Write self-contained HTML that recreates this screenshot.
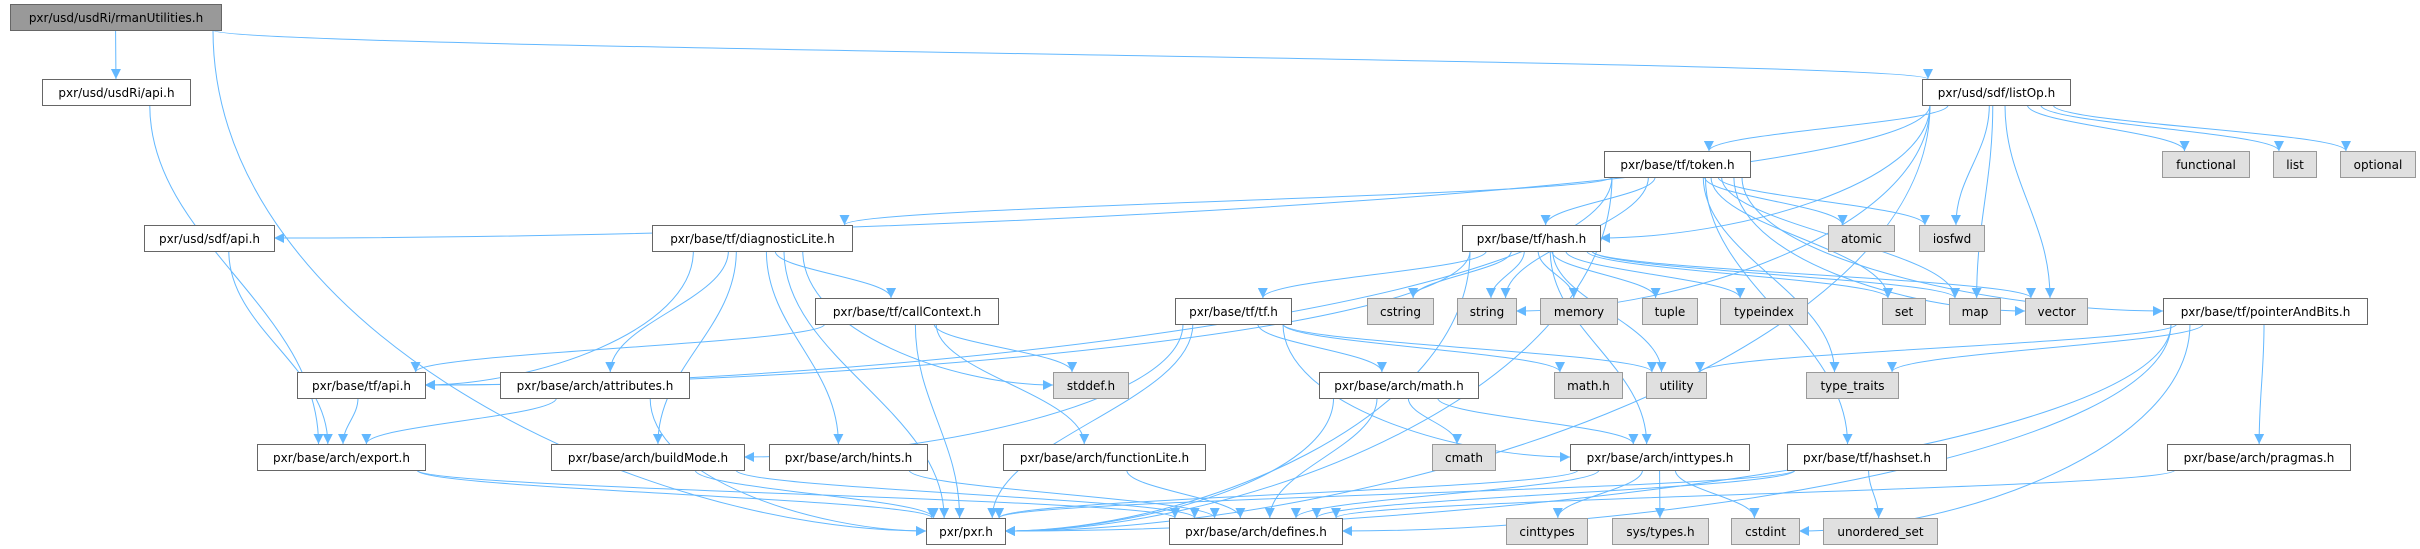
<!DOCTYPE html>
<html><head><meta charset="utf-8">
<style>
html,body{margin:0;padding:0;background:#fff;}
svg{display:block;}
text{font-family:"DejaVu Sans","Liberation Sans",sans-serif;font-size:12px;fill:#000;}
</style></head>
<body>
<svg id="g" width="2420" height="549" viewBox="0 0 2420 549" xmlns="http://www.w3.org/2000/svg">
<defs>
<marker id="ah" viewBox="0 0 10 10" refX="10" refY="5" markerWidth="10" markerHeight="10" markerUnits="userSpaceOnUse" orient="auto">
<path d="M0,0 L10,5 L0,10 z" fill="#63b8ff"/>
</marker>
</defs>
<g id="edges"></g>
<g id="nodes"></g>
</svg>
<script>
var R=[4,79,151,225,298,372,444,518];
var H=26;
// id: [label, x1, x2, row, type]  type: 0 white,1 gray-ext,2 main
var N={
rman:["pxr/usd/usdRi/rmanUtilities.h",10,221,0,2],
riapi:["pxr/usd/usdRi/api.h",42,190,1,0],
listop:["pxr/usd/sdf/listOp.h",1922,2070,1,0],
token:["pxr/base/tf/token.h",1604,1750,2,0],
functional:["functional",2162,2249,2,1],
list:["list",2273,2316,2,1],
optional:["optional",2340,2415,2,1],
sdfapi:["pxr/usd/sdf/api.h",144,274,3,0],
diag:["pxr/base/tf/diagnosticLite.h",652,852,3,0],
hash:["pxr/base/tf/hash.h",1462,1600,3,0],
atomic:["atomic",1828,1894,3,1],
iosfwd:["iosfwd",1919,1984,3,1],
callctx:["pxr/base/tf/callContext.h",815,998,4,0],
tf:["pxr/base/tf/tf.h",1175,1291,4,0],
cstring:["cstring",1367,1433,4,1],
string:["string",1457,1516,4,1],
memory:["memory",1540,1617,4,1],
tuple:["tuple",1642,1697,4,1],
typeindex:["typeindex",1720,1807,4,1],
set:["set",1882,1925,4,1],
map:["map",1949,2000,4,1],
vector:["vector",2025,2087,4,1],
pab:["pxr/base/tf/pointerAndBits.h",2163,2367,4,0],
tfapi:["pxr/base/tf/api.h",297,425,5,0],
attr:["pxr/base/arch/attributes.h",500,689,5,0],
stddef:["stddef.h",1053,1128,5,1],
amath:["pxr/base/arch/math.h",1319,1478,5,0],
mathh:["math.h",1554,1622,5,1],
utility:["utility",1646,1706,5,1],
typetraits:["type_traits",1806,1898,5,1],
exp:["pxr/base/arch/export.h",257,425,6,0],
build:["pxr/base/arch/buildMode.h",551,744,6,0],
hints:["pxr/base/arch/hints.h",769,927,6,0],
funclite:["pxr/base/arch/functionLite.h",1003,1205,6,0],
cmath:["cmath",1432,1495,6,1],
inttypes:["pxr/base/arch/inttypes.h",1570,1749,6,0],
hashset:["pxr/base/tf/hashset.h",1787,1946,6,0],
pragmas:["pxr/base/arch/pragmas.h",2167,2350,6,0],
pxr:["pxr/pxr.h",926,1005,7,0],
defines:["pxr/base/arch/defines.h",1169,1342,7,0],
cinttypes:["cinttypes",1506,1587,7,1],
systypes:["sys/types.h",1612,1708,7,1],
cstdint:["cstdint",1731,1799,7,1],
uset:["unordered_set",1823,1937,7,1]
};
var E=[
["rman","riapi"],["rman","listop"],["rman","pxr"],
["riapi","exp"],
["listop","sdfapi"],["listop","token"],["listop","hash"],["listop","pxr"],["listop","functional"],["listop","iosfwd"],["listop","list"],["listop","map"],["listop","optional"],["listop","string"],["listop","vector"],
["sdfapi","exp"],
["token","pxr"],["token","tfapi"],["token","diag"],["token","hash"],["token","pab"],["token","hashset"],["token","atomic"],["token","iosfwd"],["token","string"],["token","set"],["token","map"],["token","vector"],["token","typetraits"],
["diag","pxr"],["diag","tfapi"],["diag","attr"],["diag","build"],["diag","hints"],["diag","callctx"],["diag","stddef"],
["callctx","tfapi"],["callctx","pxr"],["callctx","funclite"],["callctx","stddef"],
["hash","pxr"],["hash","tfapi"],["hash","tf"],["hash","inttypes"],["hash","cstring"],["hash","string"],["hash","memory"],["hash","tuple"],["hash","typeindex"],["hash","set"],["hash","map"],["hash","vector"],["hash","utility"],
["tf","pxr"],["tf","build"],["tf","amath"],["tf","inttypes"],["tf","mathh"],["tf","utility"],
["amath","defines"],["amath","inttypes"],["amath","cmath"],["amath","pxr"],
["inttypes","defines"],["inttypes","cinttypes"],["inttypes","systypes"],["inttypes","cstdint"],["inttypes","pxr"],
["hashset","pxr"],["hashset","defines"],["hashset","uset"],
["pab","pxr"],["pab","pragmas"],["pab","typetraits"],["pab","utility"],["pab","cstdint"],["pab","defines"],
["pragmas","defines"],
["attr","exp"],["attr","pxr"],
["exp","defines"],["exp","pxr"],
["tfapi","exp"],
["build","defines"],["build","pxr"],
["hints","defines"],
["funclite","defines"]
];
var NS="http://www.w3.org/2000/svg";
var eg=document.getElementById("edges"),ng=document.getElementById("nodes");
E.forEach(function(e){
  var s=N[e[0]],t=N[e[1]];
  var scx=(s[1]+s[2])/2,tcx=(t[1]+t[2])/2;
  var sy=R[s[3]]+H,ty=R[t[3]];
  var sw=s[2]-s[1];
  var sx=scx+Math.max(-sw/2+8,Math.min(sw/2-8,(tcx-scx)*0.15));
  var tx,tyy,d;
  var rows=t[3]-s[3];
  if(rows>=2 && Math.abs(tcx-scx)>300){
    // enter side of target
    var left=tcx>scx;
    tx=left?t[1]:t[2]; tyy=ty+H/2;
    var dy=tyy-sy;
    d="M"+sx+","+sy+" C"+sx+","+(sy+dy*0.6)+" "+(tx+(left?-(Math.abs(tx-sx)*0.4):Math.abs(tx-sx)*0.4))+","+tyy+" "+tx+","+tyy;
  } else {
    var tw=t[2]-t[1];
    tx=tcx+Math.max(-tw/2+6,Math.min(tw/2-6,(scx-tcx)*0.1));
    tyy=ty; var dy=tyy-sy;
    d="M"+sx+","+sy+" C"+sx+","+(sy+dy*0.4)+" "+tx+","+(tyy-dy*0.4)+" "+tx+","+tyy;
  }
  var p=document.createElementNS(NS,"path");
  p.setAttribute("d",d);p.setAttribute("fill","none");p.setAttribute("stroke","#63b8ff");
  p.setAttribute("stroke-width","1");p.setAttribute("marker-end","url(#ah)");
  eg.appendChild(p);
});
for(var k in N){
  var n=N[k];
  var r=document.createElementNS(NS,"rect");
  r.setAttribute("x",n[1]+0.5);r.setAttribute("y",R[n[3]]+0.5);
  r.setAttribute("width",n[2]-n[1]);r.setAttribute("height",H);
  var fill=n[4]==2?"#999999":(n[4]==1?"#e0e0e0":"#ffffff");
  var st=n[4]==1?"#999999":"#666666";
  r.setAttribute("fill",fill);r.setAttribute("stroke",st);r.setAttribute("stroke-width","1");
  ng.appendChild(r);
  var t=document.createElementNS(NS,"text");
  t.setAttribute("x",(n[1]+n[2])/2+0.5);t.setAttribute("y",R[n[3]]+H/2+5);
  t.setAttribute("text-anchor","middle");
  t.textContent=n[0];
  ng.appendChild(t);
}
</script>
</body></html>
